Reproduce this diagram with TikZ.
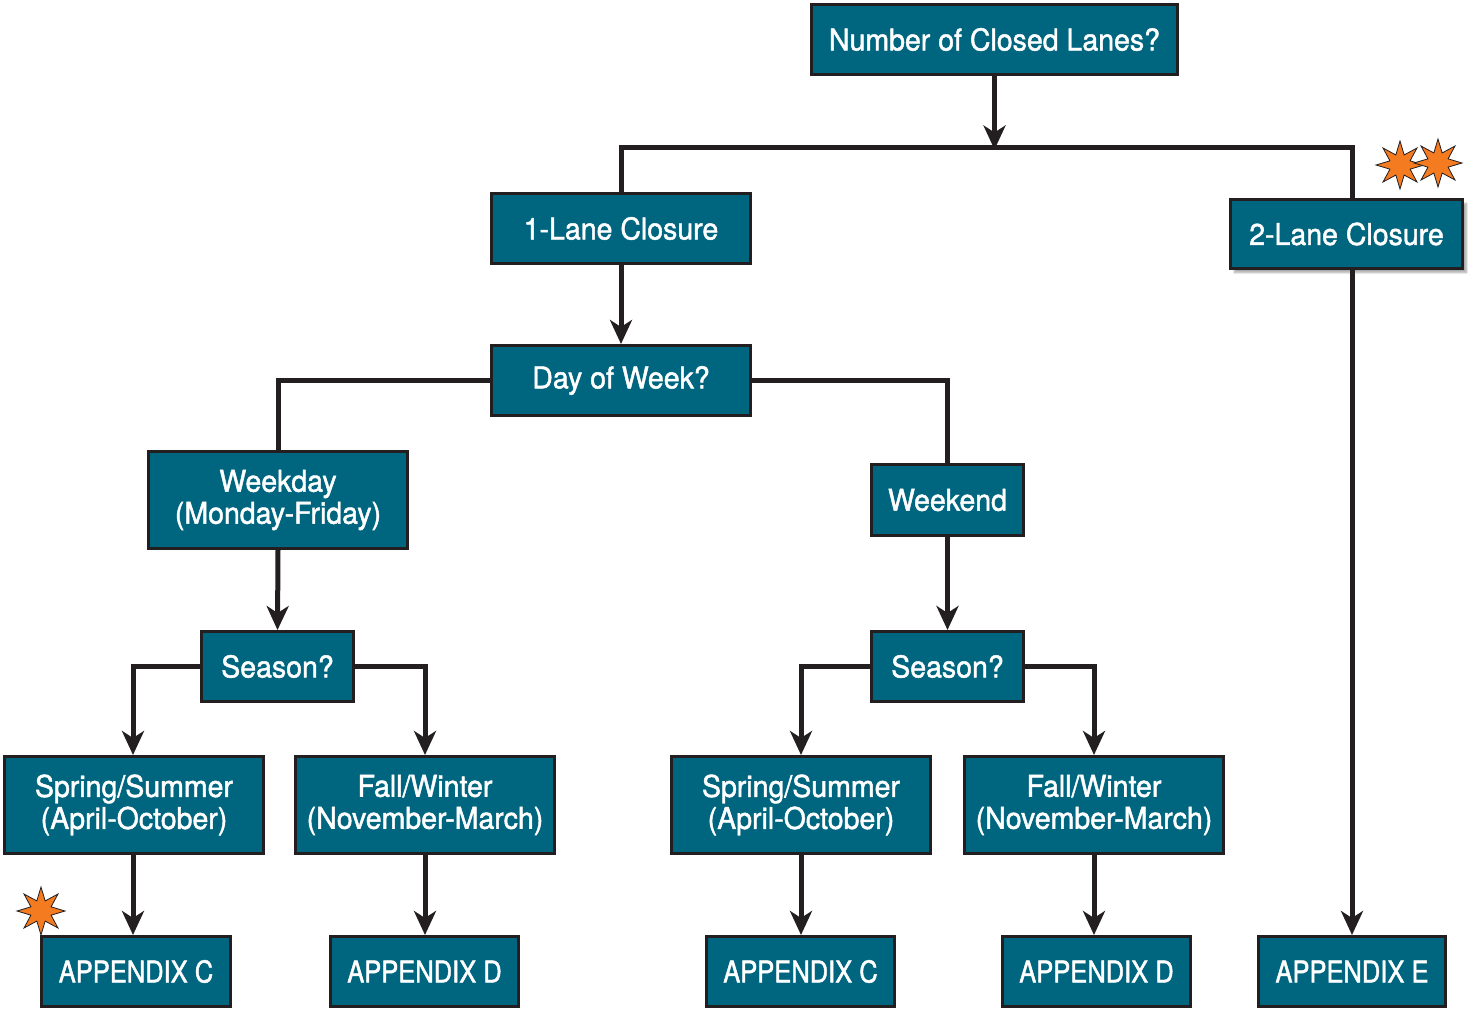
\documentclass[tikz,border=0pt]{standalone}
\usepackage{fontspec}
\setmainfont{TeX Gyre Heros}[FakeStretch=0.95, FakeBold=1.5]
\newfontfamily\capsfont{TeX Gyre Heros}[FakeStretch=0.85, FakeBold=1.5]
\usetikzlibrary{arrows.meta,shapes.geometric,shadows.blur}
\definecolor{boxteal}{HTML}{00667F}
\definecolor{ink}{HTML}{231F20}
\definecolor{burst}{HTML}{F47B20}
\begin{document}
\begin{tikzpicture}[x=1pt,y=-1pt,
  box/.style={draw=ink, line width=3pt, fill=boxteal, text=white, inner sep=0pt,
    font=\fontsize{30}{32}\selectfont, align=center},
  appbox/.style={box, font=\capsfont\fontsize{30}{32}\selectfont,
    minimum width=188pt, minimum height=70pt},
  ln/.style={draw=ink, line width=5pt},
  arr/.style={ln, -{Stealth[length=24pt,width=22pt,inset=7pt]}},
  burstnode/.style={star, star points=8, star point ratio=2.2, fill=burst, draw=ink,
    line width=0.8pt, minimum size=48pt, inner sep=0pt}]
\useasboundingbox (0,0) rectangle (1468,1010);

% decision boxes
\node[box, minimum width=366pt, minimum height=70pt] (q1)  at (994.5,39.5) {Number of Closed Lanes?};
\node[box, minimum width=259pt, minimum height=70pt] (one) at (621,228.5) {1-Lane Closure};
\node[box, minimum width=232pt, minimum height=69pt,
  blur shadow={shadow xshift=4pt, shadow yshift=-4pt, shadow blur steps=6, shadow opacity=35}]
  (two) at (1346.5,234) {2-Lane Closure};
\node[box, minimum width=259pt, minimum height=70pt] (dow) at (621,380.5) {Day of Week?};
\node[box, minimum width=259pt, minimum height=97pt] (wkd) at (278,500) {Weekday\\(Monday-Friday)};
\node[box, minimum width=152pt, minimum height=71pt] (wke) at (947.5,500) {Weekend};
\node[box, minimum width=152pt, minimum height=70pt] (s1)  at (277.5,666.5) {Season?};
\node[box, minimum width=152pt, minimum height=70pt] (s2)  at (947.5,666.5) {Season?};
\node[box, minimum width=259pt, minimum height=97pt] (ss1) at (134,805) {Spring/Summer\\(April-October)};
\node[box, minimum width=259pt, minimum height=97pt] (fw1) at (425,805) {Fall/Winter\\(November-March)};
\node[box, minimum width=259pt, minimum height=97pt] (ss2) at (801,805) {Spring/Summer\\(April-October)};
\node[box, minimum width=259pt, minimum height=97pt] (fw2) at (1094,805) {Fall/Winter\\(November-March)};

% appendix boxes
\node[appbox, minimum width=189pt] (c1) at (136,971.5) {APPENDIX C};
\node[appbox] (d1) at (424.5,971.5) {APPENDIX D};
\node[appbox] (c2) at (800.5,971.5) {APPENDIX C};
\node[appbox] (d2) at (1096.5,971.5) {APPENDIX D};
\node[appbox, minimum width=187pt] (e)  at (1352,971.5) {APPENDIX E};

% connectors
\coordinate (hbar) at (994.5,147);
\draw[arr] (q1.south) -- ([yshift=-2.5pt]q1.south |- hbar);
\draw[ln] (one.north) |- (hbar) -| (two.north -| e.north);
\draw[arr] (two.south -| e.north) -- (e.north);
\draw[arr] (one.south) -- (dow.north);
\draw[ln] (dow.west) -| (wkd.north);
\draw[ln] (dow.east) -| (wke.north);
\draw[arr] (wkd.south) -- (s1.north);
\draw[arr] (wke.south) -- (s2.north);
\draw[arr] (s1.west) -| ([xshift=-1pt]ss1.north);
\draw[arr] (s1.east) -| (fw1.north);
\draw[arr] (s2.west) -| (ss2.north);
\draw[arr] (s2.east) -| (fw2.north);
\draw[arr] ([xshift=-1pt]ss1.south) -- ([xshift=-1pt]ss1.south |- c1.north);
\draw[arr] (fw1.south) -- (fw1.south |- d1.north);
\draw[arr] (ss2.south) -- (ss2.south |- c2.north);
\draw[arr] (fw2.south) -- (fw2.south |- d2.north);

% bursts
\node[burstnode] (b1) at (41,911) {};
\node[burstnode] (b2) at (1400,165) {};
\node[burstnode] (b3) at (1438,163) {};
\end{tikzpicture}
\end{document}
